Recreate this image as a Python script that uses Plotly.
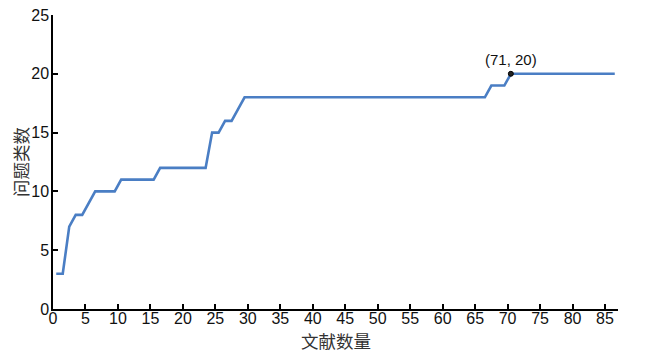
import plotly.graph_objects as go

# document count (1..87) and cumulative number of problem categories
doc_index = list(range(1, 88))
categories = [3, 3, 7, 8, 8, 9, 10, 10, 10, 10,
              11, 11, 11, 11, 11, 11, 12, 12, 12, 12,
              12, 12, 12, 12, 15, 15, 16, 16, 17, 18] + [18] * 37 + [19, 19, 19] + [20] * 17
mark_doc = 71
mark_val = 20

x_title = "文献数量"
y_title = "问题类数"
x_ticks = list(range(0, 90, 5))
y_ticks = list(range(0, 30, 5))

xs = [n - 0.5 for n in doc_index]

fig = go.Figure()
fig.add_trace(go.Scatter(
    x=xs, y=categories, mode="lines",
    line=dict(color="#4A7EC4", width=2.6),
    showlegend=False, hoverinfo="skip"))
fig.add_trace(go.Scatter(
    x=[mark_doc - 0.5], y=[mark_val], mode="markers",
    marker=dict(color="#222222", size=5, line=dict(color="#000000", width=1)),
    showlegend=False))
fig.add_annotation(
    x=mark_doc - 0.5, y=mark_val, text=f"({mark_doc}, {mark_val})",
    showarrow=False, yshift=14,
    font=dict(family="Liberation Sans, Arial", size=15, color="#111111"))

axis_font = dict(family="Liberation Sans, Arial", size=16, color="#111111")
title_font = dict(family="Noto Sans CJK SC", size=17.5, color="#333333")

fig.add_annotation(xref="paper", yref="paper", x=0.5, y=0, yshift=-31,
                   xanchor="center", yanchor="middle", text=x_title,
                   showarrow=False, font=title_font)
fig.add_annotation(xref="paper", yref="paper", x=0, y=0.5, xshift=-33,
                   xanchor="center", yanchor="middle", text=y_title,
                   textangle=-90, showarrow=False, font=title_font)

fig.update_layout(
    width=648, height=356,
    margin=dict(l=53, r=30, t=15, b=47, autoexpand=False),
    paper_bgcolor="white", plot_bgcolor="white",
    xaxis=dict(range=[0, 87], tickvals=x_ticks, ticks="inside", ticklen=5,
               tickwidth=1.5, tickcolor="black", automargin=False,
               ticklabelstandoff=-6,
               showline=True, linecolor="black", linewidth=1.5,
               showgrid=False, zeroline=False, tickfont=axis_font),
    yaxis=dict(range=[0, 25], tickvals=y_ticks, ticks="inside", ticklen=5,
               tickwidth=1.5, tickcolor="black", automargin=False,
               ticklabelstandoff=-1,
               showline=True, linecolor="black", linewidth=1.5,
               showgrid=False, zeroline=False, tickfont=axis_font),
)

fig.write_html("out.html")
